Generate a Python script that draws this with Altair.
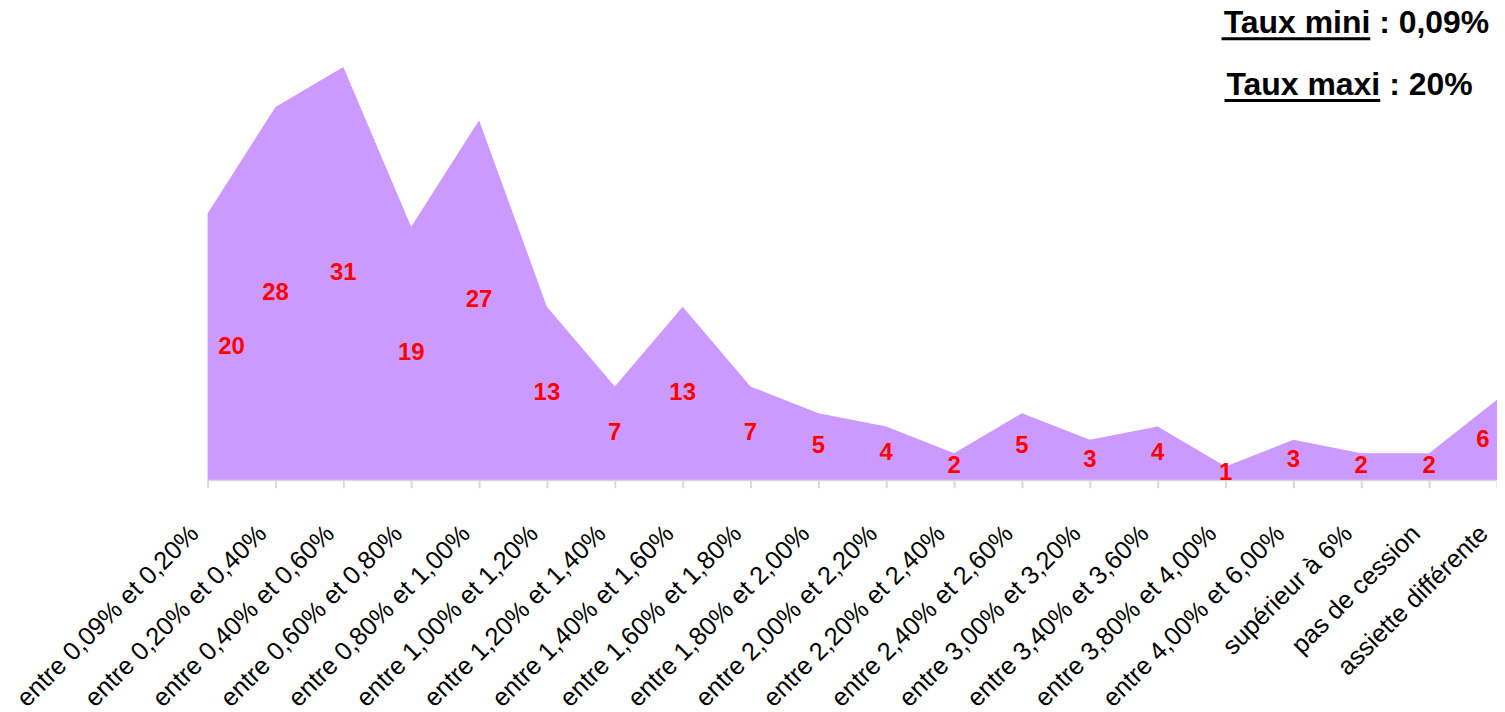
import altair as alt
import pandas as pd

categories = [
    "entre 0,09% et 0,20%", "entre 0,20% et 0,40%", "entre 0,40% et 0,60%",
    "entre 0,60% et 0,80%", "entre 0,80% et 1,00%", "entre 1,00% et 1,20%",
    "entre 1,20% et 1,40%", "entre 1,40% et 1,60%", "entre 1,60% et 1,80%",
    "entre 1,80% et 2,00%", "entre 2,00% et 2,20%", "entre 2,20% et 2,40%",
    "entre 2,40% et 2,60%", "entre 3,00% et 3,20%", "entre 3,40% et 3,60%",
    "entre 3,80% et 4,00%", "entre 4,00% et 6,00%", "supérieur à 6%",
    "pas de cession", "assiette différente",
]
values = [20, 28, 31, 19, 27, 13, 7, 13, 7, 5, 4, 2, 5, 3, 4, 1, 3, 2, 2, 6]

title_labels = ["Taux mini", "Taux maxi"]
title_values = [": 0,09%", ": 20%"]

FONT = "Liberation Sans"

df = pd.DataFrame({"cat": categories, "val": values, "idx": list(range(len(values)))})
one = pd.DataFrame({"k": [0]})

xenc = alt.X("cat:N", sort=categories, title=None,
             scale=alt.Scale(type="point", padding=0),
             axis=alt.Axis(labelAngle=-45, labelAlign="right", labelBaseline="alphabetic",
                           labelPadding=47, labelOffset=-8, labelFontSize=25.5, labelFont=FONT,
                           labelColor="black", labelLimit=0, labelOverlap=False,
                           domainColor="#d9d9d9", domainWidth=2,
                           tickColor="#d9d9d9", tickWidth=2, tickSize=8, grid=False))
yscale = alt.Scale(domain=[0, 35], nice=False)

base = alt.Chart(df)

area = base.mark_area(color="#CC99FF", opacity=1).encode(
    x=xenc, y=alt.Y("val:Q", scale=yscale, axis=None)
)

def label_layer(flt, dx):
    return base.transform_calculate(mid="datum.val / 2").transform_filter(flt).mark_text(
        color="#FF0000", fontWeight="bold", fontSize=24, font=FONT, baseline="middle", dx=dx
    ).encode(
        x=alt.X("cat:N", sort=categories),
        y=alt.Y("mid:Q", scale=yscale),
        text="val:Q",
    )

labels_mid = label_layer("datum.idx > 0 && datum.idx < 19", 0)
label_first = label_layer("datum.idx == 0", 24)
label_last = label_layer("datum.idx == 19", -14)

def title_line(label, value, x_end, y_base, width):
    t1 = alt.Chart(one).mark_text(text=label, font=FONT, fontSize=32, fontWeight="bold",
                                  align="right", baseline="alphabetic", color="black").encode(
        x=alt.value(x_end), y=alt.value(y_base))
    t2 = alt.Chart(one).mark_text(text=value, font=FONT, fontSize=32, fontWeight="bold",
                                  align="left", baseline="alphabetic", color="black").encode(
        x=alt.value(x_end + 9), y=alt.value(y_base))
    r = alt.Chart(one).mark_rule(color="black", strokeWidth=3).encode(
        x=alt.value(x_end - width), x2=alt.value(x_end), y=alt.value(y_base + 6))
    return t1 + t2 + r

tl1 = title_line(title_labels[0], title_values[0], 1165, 19, 149)
tl2 = title_line(title_labels[1], title_values[1], 1175, 81, 156)

chart = alt.layer(area, labels_mid, label_first, label_last, tl1, tl2).properties(
    width=1292, height=467,
    autosize=alt.AutoSizeParams(type="none"),
    padding={"left": 200, "top": 5, "right": 0, "bottom": 232},
).configure_view(stroke=None)

chart.save("out.html", embed_options={"renderer": "svg", "actions": False})
